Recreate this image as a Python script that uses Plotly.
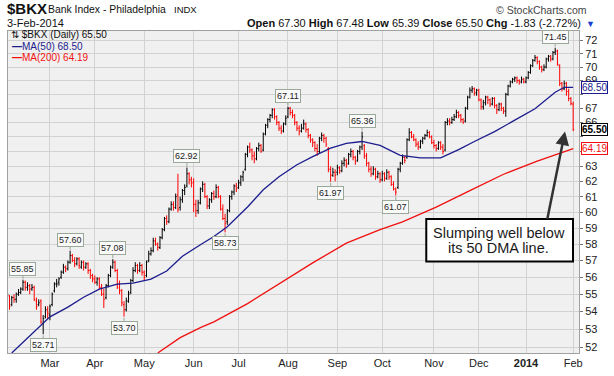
import math
import pandas as pd
import plotly.graph_objects as go

# ---------------- data ----------------
holidays = ["2013-02-18", "2013-03-29", "2013-05-27", "2013-07-04", "2013-09-02",
            "2013-11-28", "2013-12-25", "2014-01-01", "2014-01-20"]
dates = [d.strftime("%Y-%m-%d") for d in pd.bdate_range("2013-02-01", "2014-02-03")
         if d.strftime("%Y-%m-%d") not in holidays]

open_ = [
    54.7, 54.9, 54.4, 54.8, 54.7, 55.0, 55.1, 55.3, 55.7, 55.4,
    55.5, 55.3, 55.4, 54.6, 54.4, 54.6, 53.3, 53.7, 54.1, 53.8,
    54.4, 55.2, 55.6, 55.7, 56.0, 56.3, 56.6, 56.5, 56.9, 57.3,
    57.0, 56.8, 57.1, 56.6, 56.9, 56.6, 56.8, 56.4, 56.1, 55.9,
    55.7, 55.9, 55.4, 55.0, 54.8, 55.5, 56.1, 56.6, 56.9, 56.4,
    55.6, 55.2, 54.4, 54.1, 54.6, 55.1, 55.8, 56.4, 56.7, 56.4,
    56.7, 56.3, 56.1, 57.0, 57.4, 57.6, 58.2, 58.0, 57.8, 58.4,
    58.9, 59.6, 59.4, 60.2, 60.5, 60.3, 61.1, 60.3, 60.8, 61.4,
    61.7, 62.5, 62.1, 61.9, 60.5, 60.1, 60.6, 61.5, 61.8, 61.0,
    60.4, 60.8, 61.2, 61.0, 61.6, 61.0, 60.2, 59.6, 59.4, 60.1,
    61.0, 61.3, 61.7, 61.6, 61.9, 62.3, 62.8, 63.8, 64.3, 64.1,
    63.7, 63.5, 64.2, 64.4, 64.1, 65.2, 65.8, 66.2, 66.5, 66.9,
    66.4, 66.0, 65.6, 65.4, 65.9, 66.4, 67.0, 66.7, 66.5, 66.0,
    65.6, 65.4, 65.6, 65.9, 65.5, 65.1, 64.8, 64.6, 64.2, 64.0,
    64.9, 65.1, 64.9, 64.2, 62.8, 62.4, 62.6, 62.6, 62.9, 62.7,
    63.2, 63.4, 63.2, 63.8, 64.0, 63.6, 63.4, 64.0, 64.3, 64.4,
    63.7, 63.2, 62.8, 62.5, 62.8, 62.3, 62.5, 62.1, 62.5, 62.2,
    62.6, 62.3, 61.8, 61.5, 61.6, 62.8, 63.2, 63.6, 63.6, 64.8,
    65.3, 65.0, 64.8, 64.5, 64.3, 64.7, 64.9, 65.1, 65.3, 65.0,
    64.6, 64.4, 64.2, 64.6, 64.3, 64.1, 66.0, 66.1, 66.0, 66.2,
    66.4, 66.7, 66.5, 66.2, 66.1, 67.0, 67.8, 68.3, 68.4, 68.1,
    68.3, 67.6, 67.1, 67.4, 67.8, 67.6, 67.3, 67.7, 67.2, 66.9,
    67.3, 67.0, 66.8, 68.0, 68.6, 68.9, 69.1, 69.2, 69.0, 68.9,
    69.1, 68.9, 69.2, 69.6, 70.1, 70.5, 70.7, 70.4, 70.0, 69.8,
    70.0, 70.6, 70.8, 70.6, 71.1, 71.2, 70.1, 68.8, 68.4, 68.8,
    68.2, 67.7, 67.30]

high = [
    55.1, 54.95, 54.9, 55.0, 55.1, 55.3, 55.4, 55.85, 55.8, 55.7,
    55.6, 55.6, 55.5, 54.8, 54.7, 54.7, 53.8, 54.3, 54.3, 54.4,
    55.1, 55.7, 55.9, 56.0, 56.4, 56.8, 56.7, 57.0, 57.6, 57.4,
    57.2, 57.2, 57.2, 57.0, 57.0, 56.9, 56.9, 56.5, 56.2, 56.1,
    56.0, 56.0, 55.6, 55.3, 55.6, 56.2, 56.7, 57.08, 57.0, 56.5,
    55.8, 55.3, 54.6, 54.8, 55.2, 55.9, 56.6, 56.9, 56.8, 56.9,
    56.8, 56.4, 57.0, 57.6, 57.8, 58.4, 58.4, 58.1, 58.5, 59.0,
    59.7, 59.8, 60.3, 60.7, 60.7, 61.2, 62.5, 61.0, 61.5, 61.8,
    62.92, 62.6, 62.3, 62.2, 60.8, 60.8, 61.6, 62.0, 61.9, 61.1,
    60.9, 61.3, 61.4, 61.8, 61.7, 61.1, 60.5, 59.9, 60.2, 61.1,
    61.4, 61.8, 61.9, 62.1, 62.4, 62.7, 63.9, 64.4, 64.6, 64.2,
    64.0, 64.3, 64.6, 64.5, 65.3, 65.9, 66.3, 66.6, 67.0, 67.0,
    66.5, 66.1, 65.8, 66.0, 66.5, 67.11, 67.1, 66.9, 66.6, 66.1,
    65.8, 65.9, 66.2, 66.0, 65.6, 65.2, 64.9, 64.7, 64.5, 65.0,
    65.3, 65.2, 65.0, 64.3, 63.0, 62.9, 62.8, 63.1, 63.0, 63.4,
    63.6, 63.5, 63.9, 64.2, 64.1, 63.7, 64.1, 64.4, 65.36, 64.5,
    63.9, 63.3, 63.0, 63.0, 62.9, 62.7, 62.6, 62.7, 62.6, 62.8,
    62.7, 62.4, 62.0, 61.6, 62.9, 63.3, 63.8, 63.7, 64.9, 65.6,
    65.4, 65.2, 64.9, 64.7, 64.8, 65.0, 65.2, 65.5, 65.4, 65.1,
    64.8, 64.5, 64.7, 64.7, 64.5, 66.1, 66.3, 66.3, 66.4, 66.6,
    66.9, 66.8, 66.6, 66.3, 67.1, 67.9, 68.5, 68.6, 68.5, 68.4,
    68.4, 67.7, 67.6, 67.9, 67.9, 67.7, 67.8, 67.8, 67.3, 67.4,
    67.4, 67.1, 68.1, 68.7, 69.0, 69.2, 69.3, 69.3, 69.1, 69.3,
    69.2, 69.3, 69.7, 70.2, 70.6, 70.9, 70.8, 70.5, 70.1, 70.2,
    70.7, 70.9, 70.9, 71.2, 71.45, 71.3, 70.2, 68.9, 69.0, 68.9,
    68.4, 67.8, 67.48]

low = [
    54.6, 54.1, 54.3, 54.5, 54.5, 54.9, 55.0, 55.2, 55.2, 55.2,
    55.0, 55.2, 54.6, 54.1, 54.3, 53.3, 52.71, 53.6, 53.6, 53.5,
    54.3, 55.1, 55.4, 55.5, 55.9, 56.2, 56.3, 56.4, 56.8, 56.9,
    56.6, 56.7, 56.5, 56.5, 56.4, 56.5, 56.2, 55.9, 55.7, 55.6,
    55.5, 55.3, 54.9, 54.2, 54.7, 55.4, 56.0, 56.5, 56.3, 55.3,
    55.0, 54.3, 53.70, 54.0, 54.5, 55.0, 55.7, 56.3, 56.2, 56.3,
    56.1, 55.8, 56.0, 56.9, 57.3, 57.5, 57.9, 57.6, 57.7, 58.3,
    58.8, 59.2, 59.3, 60.1, 60.1, 60.2, 60.0, 60.1, 60.6, 61.1,
    61.6, 61.8, 61.6, 60.0, 59.7, 59.9, 60.5, 61.3, 60.9, 60.2,
    60.2, 60.6, 60.8, 60.9, 60.9, 60.1, 59.5, 58.73, 59.2, 60.0,
    60.8, 61.1, 61.3, 61.5, 61.7, 62.0, 62.7, 63.6, 63.9, 63.4,
    63.2, 63.4, 64.0, 63.9, 64.0, 65.1, 65.6, 66.0, 66.3, 66.2,
    65.8, 65.4, 65.2, 65.3, 65.8, 66.3, 66.5, 66.3, 65.8, 65.4,
    65.1, 65.3, 65.5, 65.3, 64.9, 64.6, 64.3, 64.0, 63.7, 63.9,
    64.7, 64.6, 64.3, 62.6, 61.97, 62.3, 62.0, 62.4, 62.5, 62.6,
    63.0, 62.9, 63.1, 63.6, 63.4, 63.1, 63.3, 63.8, 64.1, 63.5,
    63.0, 62.6, 62.3, 62.4, 62.1, 62.2, 61.9, 62.0, 62.0, 62.1,
    62.1, 61.7, 61.4, 61.07, 61.5, 62.6, 63.1, 63.2, 63.5, 64.7,
    64.9, 64.7, 64.3, 64.1, 64.2, 64.5, 64.8, 65.0, 64.9, 64.5,
    64.2, 64.0, 64.1, 64.1, 63.8, 64.0, 65.8, 65.8, 65.9, 66.1,
    66.3, 66.3, 66.0, 65.9, 66.0, 66.9, 67.7, 68.1, 67.9, 67.9,
    67.5, 66.9, 66.9, 67.2, 67.3, 67.1, 67.2, 67.0, 66.6, 66.8,
    66.8, 66.6, 66.4, 67.9, 68.5, 68.8, 68.9, 68.8, 68.7, 68.8,
    68.8, 68.8, 69.1, 69.5, 70.0, 70.4, 70.2, 69.8, 69.6, 69.7,
    69.9, 70.4, 70.4, 70.5, 70.9, 70.1, 68.6, 68.2, 68.3, 67.9,
    67.5, 67.2, 65.39]

close = [
    55.0, 54.3, 54.8, 54.7, 55.0, 55.1, 55.3, 55.7, 55.4, 55.5,
    55.3, 55.4, 54.7, 54.3, 54.5, 53.4, 53.6, 54.1, 53.9, 54.3,
    55.0, 55.6, 55.6, 55.9, 56.3, 56.6, 56.5, 56.9, 57.3, 57.0,
    56.8, 57.1, 56.7, 56.9, 56.6, 56.8, 56.4, 56.1, 55.9, 55.7,
    55.9, 55.4, 55.0, 54.7, 55.5, 56.1, 56.6, 56.9, 56.4, 55.4,
    55.2, 54.5, 54.1, 54.6, 55.0, 55.8, 56.4, 56.7, 56.4, 56.7,
    56.3, 56.0, 56.9, 57.4, 57.6, 58.2, 58.0, 57.8, 58.4, 58.9,
    59.6, 59.4, 60.2, 60.5, 60.3, 61.0, 60.2, 60.8, 61.4, 61.6,
    62.5, 62.1, 61.9, 60.5, 60.1, 60.6, 61.5, 61.8, 61.0, 60.4,
    60.8, 61.2, 61.0, 61.6, 61.0, 60.2, 59.6, 59.3, 60.1, 61.0,
    61.3, 61.7, 61.5, 61.9, 62.3, 62.6, 63.8, 64.3, 64.1, 63.7,
    63.5, 64.2, 64.4, 64.0, 65.2, 65.8, 66.2, 66.5, 66.9, 66.4,
    66.0, 65.6, 65.4, 65.9, 66.3, 67.0, 66.7, 66.5, 66.0, 65.6,
    65.4, 65.6, 65.9, 65.5, 65.1, 64.8, 64.6, 64.2, 64.0, 64.9,
    65.1, 64.9, 64.5, 62.8, 62.4, 62.6, 62.4, 62.9, 62.7, 63.2,
    63.4, 63.1, 63.8, 64.0, 63.6, 63.3, 64.0, 64.3, 65.0, 63.7,
    63.2, 62.8, 62.5, 62.8, 62.3, 62.5, 62.1, 62.5, 62.2, 62.6,
    62.3, 61.8, 61.5, 61.3, 62.8, 63.2, 63.6, 63.4, 64.8, 65.3,
    65.0, 64.8, 64.5, 64.3, 64.7, 64.9, 65.1, 65.3, 65.0, 64.6,
    64.4, 64.2, 64.6, 64.3, 64.0, 66.0, 66.1, 66.0, 66.2, 66.4,
    66.7, 66.5, 66.2, 66.0, 67.0, 67.8, 68.3, 68.4, 68.1, 68.3,
    67.6, 67.1, 67.4, 67.8, 67.6, 67.3, 67.7, 67.2, 66.9, 67.3,
    67.0, 66.8, 68.0, 68.6, 68.9, 69.1, 69.2, 69.0, 68.9, 69.1,
    68.9, 69.2, 69.6, 70.1, 70.5, 70.7, 70.4, 70.0, 69.8, 70.0,
    70.6, 70.8, 70.6, 71.1, 71.2, 70.2, 68.8, 68.4, 68.8, 68.2,
    67.7, 67.33, 65.50]

# moving averages, sampled along the drawn lines (trading-day position, value)
ma50_pos = [2, 12, 19, 27, 34, 41, 49, 56, 64, 71, 78, 86, 92, 98, 107, 114, 121,
            129, 136, 144, 151, 158, 166, 175, 184, 193, 201, 208, 217, 226, 235,
            244, 248, 252]
ma50_val = [51.67, 52.85, 53.69, 54.25, 54.82, 55.30, 55.59, 55.65, 55.89, 56.37,
            57.26, 57.96, 58.47, 59.08, 60.33, 61.45, 62.30, 63.10, 63.65, 64.22,
            64.55, 64.68, 64.41, 63.74, 63.56, 63.56, 64.12, 64.68, 65.36, 66.16,
            66.97, 68.15, 68.51, 68.50]
ma200_pos = [67, 77, 86, 92, 107, 121, 136, 151, 166, 176, 191, 206, 221, 236, 252]
ma200_val = [51.67, 52.52, 53.08, 53.41, 54.45, 55.59, 56.86, 58.06, 58.90, 59.39,
             60.33, 61.39, 62.47, 63.35, 64.19]

# peak / trough labels
mark_pos = [7, 16, 28, 47, 52, 80, 97, 125, 144, 158, 173, 244]
mark_val = [55.85, 52.71, 57.60, 57.08, 53.70, 62.92, 58.73, 67.11, 61.97, 65.36, 61.07, 71.45]
mark_side = [1, -1, 1, 1, -1, 1, -1, 1, -1, 1, -1, 1]

month_dates = ["2013-03-01", "2013-04-01", "2013-05-01", "2013-06-03", "2013-07-01",
               "2013-08-01", "2013-09-03", "2013-10-01", "2013-11-01", "2013-12-02",
               "2014-01-02", "2014-02-03"]
month_labels = ["Mar", "Apr", "May", "Jun", "Jul", "Aug", "Sep", "Oct", "Nov", "Dec",
                "<b>2014</b>", "Feb"]
y_ticks = list(range(52, 73))
y_hidden = [64, 65, 68]          # covered by the current-value boxes in the reference

n = len(close)
assert len(dates) == n == len(open_) == len(high) == len(low), (len(dates), n, len(open_), len(high), len(low))

# ---------------- figure ----------------
W, H = 614, 376
ML, MR, MT, MB = 7, 35, 31, 18
PW, PH = W - ML - MR, H - MT - MB


def px(x):
    return (x - ML) / PW


def py(y):
    return (H - MB - y) / PH


pos = list(range(n))
fig = go.Figure()

fig.add_trace(go.Scatter(x=ma200_pos, y=ma200_val, mode="lines",
                         line=dict(color="#f01010", width=1.3), hoverinfo="skip"))
fig.add_trace(go.Scatter(x=ma50_pos, y=ma50_val, mode="lines",
                         line=dict(color="#1c1c8e", width=1.3), hoverinfo="skip"))

up = [i for i in pos if i == 0 or close[i] >= close[i - 1]]
dn = [i for i in pos if not (i == 0 or close[i] >= close[i - 1])]
for idx, col in ((up, "#000000"), (dn, "#ff0000")):
    fig.add_trace(go.Ohlc(
        x=[pos[i] for i in idx],
        open=[open_[i] for i in idx], high=[high[i] for i in idx],
        low=[low[i] for i in idx], close=[close[i] for i in idx],
        increasing=dict(line=dict(color=col, width=1)),
        decreasing=dict(line=dict(color=col, width=1)),
        tickwidth=0.45, hoverinfo="skip"))

FONT = "Liberation Sans, Arial, sans-serif"
ann = []


def text(t, x, y, size, color="#111", xanchor="left"):
    ann.append(dict(text=t, x=px(x), y=py(y), xref="paper", yref="paper",
                    xanchor=xanchor, yanchor="middle", showarrow=False,
                    font=dict(family=FONT, size=size, color=color)))


text("<b>$BKX</b>", 4, 8.5, 15)
text("Bank Index - Philadelphia", 45, 9.5, 10.4)
text("INDX", 171, 9.5, 9.5)
text("© StockCharts.com", 589, 9.5, 10.5, "#444", "right")
text("3-Feb-2014", 4, 23, 11)
text("<b>Open</b> 67.30 <b>High</b> 67.48 <b>Low</b> 65.39 <b>Close</b> 65.50 "
     "<b>Chg</b> -1.83 (-2.72%)", 583, 23, 11, "#111", "right")
text("▼", 584, 24, 9, "#1a3fd0")

text("⇅ $BKX (Daily) 65.50", 8, 35, 10, "#111")
text("<b>—</b>MA(50) 68.50", 9, 46.5, 10, "#1c1c8e")
text("<b>—</b>MA(200) 64.19", 9, 58, 10, "#f01010")

# peak / trough labels
for p, v, s in zip(mark_pos, mark_val, mark_side):
    ann.append(dict(text=f"{v:.2f}", x=p, y=math.log10(v), xref="x", yref="y",
                    showarrow=True, arrowhead=0, arrowwidth=1, arrowcolor="#9aa89a",
                    ax=0, ay=-11 * s, standoff=1,
                    font=dict(family=FONT, size=9, color="#222"),
                    bgcolor="#fafafa", bordercolor="#9aa89a", borderwidth=1, borderpad=1))

# right-hand current-value labels
for v, col, bold in ((68.50, "#1c1c8e", False), (65.50, "#000000", True), (64.19, "#f01010", False)):
    t = f"{v:.2f}"
    ann.append(dict(text=f"<b>{t}</b>" if bold else t, x=px(595), y=math.log10(v),
                    xref="paper", yref="y", xanchor="center", yanchor="middle",
                    showarrow=False, font=dict(family=FONT, size=10, color=col),
                    bgcolor="#ffffff", bordercolor=col, borderwidth=1, borderpad=0))

# callout
text("Slumping well below", 499, 236, 14.5, "#1a1a1a", "center")
text("its 50 DMA line.", 498, 251, 14.5, "#1a1a1a", "center")
ann.append(dict(text="", x=px(565), y=py(133), xref="paper", yref="paper",
                showarrow=True, ax=-18, ay=89, arrowhead=2, arrowsize=1.1,
                arrowwidth=2.5, arrowcolor="#333333", standoff=0))

shapes = [dict(type="rect", xref="paper", yref="paper",
               x0=px(426), x1=px(573), y0=py(265), y1=py(222),
               line=dict(color="#000000", width=2), fillcolor="#ffffff", layer="above")]

fig.update_layout(
    width=W, height=H, margin=dict(l=ML, r=MR, t=MT, b=MB),
    paper_bgcolor="#ffffff", plot_bgcolor="#f0f0f0", showlegend=False,
    font=dict(family=FONT, size=11, color="#222"),
    annotations=ann, shapes=shapes,
)
fig.update_xaxes(range=[0.33, 254.6], tickmode="array",
                 tickvals=[dates.index(d) for d in month_dates], ticktext=month_labels,
                 showgrid=True, gridcolor="#d2d2d2", gridwidth=1, zeroline=False,
                 showline=True, mirror=True, linecolor="#a0a0a0", linewidth=1,
                 ticks="", rangeslider_visible=False,
                 tickfont=dict(family=FONT, size=11, color="#222"))
fig.update_yaxes(type="log", side="right",
                 range=[math.log10(51.67), math.log10(72.73)],
                 tickmode="array", tickvals=y_ticks,
                 ticktext=["" if v in y_hidden else str(v) for v in y_ticks],
                 showgrid=True, gridcolor="#d2d2d2", gridwidth=1, zeroline=False,
                 showline=True, mirror=True, linecolor="#a0a0a0", linewidth=1,
                 ticks="outside", ticklen=3, tickcolor="#777",
                 tickfont=dict(family=FONT, size=11, color="#222"))

fig.write_html("out.html", config={"displayModeBar": False},
               post_script="document.body.style.margin='0';document.body.style.overflow='hidden';")
